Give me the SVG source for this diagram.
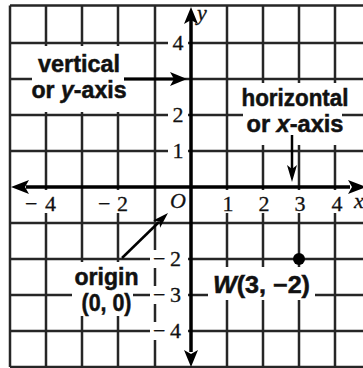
<svg xmlns="http://www.w3.org/2000/svg" width="363" height="368" viewBox="0 0 363 368">
<style>
.grid{stroke:#262626;stroke-width:2.5;fill:none}
.axis{stroke:#000;stroke-width:3.5;fill:none}
.ko{fill:#fff}
.head{fill:#000}
.shaft{stroke:#000;stroke-width:3;fill:none}
.lbl{font-family:"Liberation Sans",Arial,sans-serif;font-weight:bold;font-size:23px;fill:#111;stroke:#111;stroke-width:0.5;text-anchor:middle}
.num{font-family:"Liberation Serif","Times New Roman",serif;font-size:22px;fill:#111;stroke:#111;stroke-width:0.3}
.mid{text-anchor:middle}
.it{font-style:italic}
</style>
<rect width="363" height="368" fill="#fff"/>
<g id="grid">
<path class="grid" d="M10,5.5V367M46,5.5V367M82,5.5V367M118,5.5V367M155,5.5V367M227,5.5V367M263,5.5V367M299,5.5V367M335,5.5V367"/>
<path class="grid" d="M10,5.5H363M10,43H363M10,79H363M10,115H363M10,151H363M10,223H363M10,259H363M10,295H363M10,331H363M10,367H363"/>
</g>
<g id="knockouts">
<rect class="ko" x="32" y="46" width="92" height="66"/>
<rect class="ko" x="243" y="83" width="99" height="62"/>
<rect class="ko" x="72" y="262" width="61" height="54"/>
<rect class="ko" x="208" y="267" width="107" height="33"/>
<rect class="ko" x="24" y="190" width="36" height="23"/>
<rect class="ko" x="96" y="190" width="34" height="23"/>
<rect class="ko" x="220" y="190" width="16" height="23"/>
<rect class="ko" x="256" y="190" width="16" height="23"/>
<rect class="ko" x="292" y="190" width="16" height="23"/>
<rect class="ko" x="328" y="190" width="17" height="23"/>
<rect class="ko" x="168" y="34" width="20" height="18"/>
<rect class="ko" x="168" y="106" width="20" height="18"/>
<rect class="ko" x="168" y="142" width="20" height="18"/>
<rect class="ko" x="150" y="250" width="38" height="18"/>
<rect class="ko" x="150" y="286" width="38" height="18"/>
<rect class="ko" x="150" y="322" width="38" height="18"/>
</g>
<g id="axes">
<path class="axis" d="M26,187H350"/>
<path class="head" d="M11,187L29,180L25,187L29,194Z"/>
<path class="head" d="M366,187L348,180L352,187L348,194Z"/>
<path class="axis" d="M191,20V352"/>
<path class="head" d="M191,7L184,24L191,20L198,24Z"/>
<path class="head" d="M191,367L184,350L191,354L198,350Z"/>
</g>
<g id="tick-labels">
<text class="num" y="211"><tspan x="25">−</tspan><tspan x="45">4</tspan></text>
<text class="num" y="211"><tspan x="98">−</tspan><tspan x="117">2</tspan></text>
<text class="num it" x="170" y="208" font-size="20">O</text>
<text class="num mid" x="228" y="211">1</text>
<text class="num mid" x="264" y="211">2</text>
<text class="num mid" x="300" y="211">3</text>
<text class="num mid" x="337" y="211">4</text>
<text class="num it" x="354" y="208" font-size="20">x</text>
<text class="num it" x="197" y="20" font-size="20">y</text>
<text class="num mid" x="178" y="50">4</text>
<text class="num mid" x="178" y="122">2</text>
<text class="num mid" x="178" y="158">1</text>
<text class="num" y="266"><tspan x="153">−</tspan><tspan x="170">2</tspan></text>
<text class="num" y="302"><tspan x="153">−</tspan><tspan x="170">3</tspan></text>
<text class="num" y="338"><tspan x="153">−</tspan><tspan x="170">4</tspan></text>
</g>
<g id="vertical-label">
<text class="lbl" x="79" y="72" textLength="82" lengthAdjust="spacingAndGlyphs">vertical</text>
<text class="lbl" x="79" y="98" textLength="95" lengthAdjust="spacingAndGlyphs">or <tspan class="it">y</tspan>-axis</text>
</g>
<g id="horizontal-label">
<text class="lbl" x="295" y="106" textLength="107" lengthAdjust="spacingAndGlyphs">horizontal</text>
<text class="lbl" x="295" y="132" textLength="97" lengthAdjust="spacingAndGlyphs">or <tspan class="it">x</tspan>-axis</text>
</g>
<g id="origin-label">
<text class="lbl" x="106.5" y="285" textLength="64" lengthAdjust="spacingAndGlyphs">origin</text>
<text class="lbl" x="106.5" y="311" textLength="50" lengthAdjust="spacingAndGlyphs">(0, 0)</text>
</g>
<g id="point-W">
<circle cx="299" cy="259" r="6" fill="#000"/>
<text class="lbl" x="213" y="293" style="text-anchor:start" textLength="97" lengthAdjust="spacingAndGlyphs"><tspan class="it">W</tspan>(3, −2)</text>
</g>
<g id="connectors">
<path class="shaft" d="M124,79H176"/>
<path class="head" d="M187,79L170,72L174,79L170,86Z"/>
<path class="shaft" d="M292,135V170" style="stroke-width:2.5"/>
<path class="head" d="M292,182L287,165L292,169L297,165Z"/>
<path class="shaft" d="M122,258L159,222" style="stroke-width:2.5"/>
<path class="head" d="M168,213L160.1,227.8L159.4,221.4L153.1,220.6Z"/>
</g>
</svg>
